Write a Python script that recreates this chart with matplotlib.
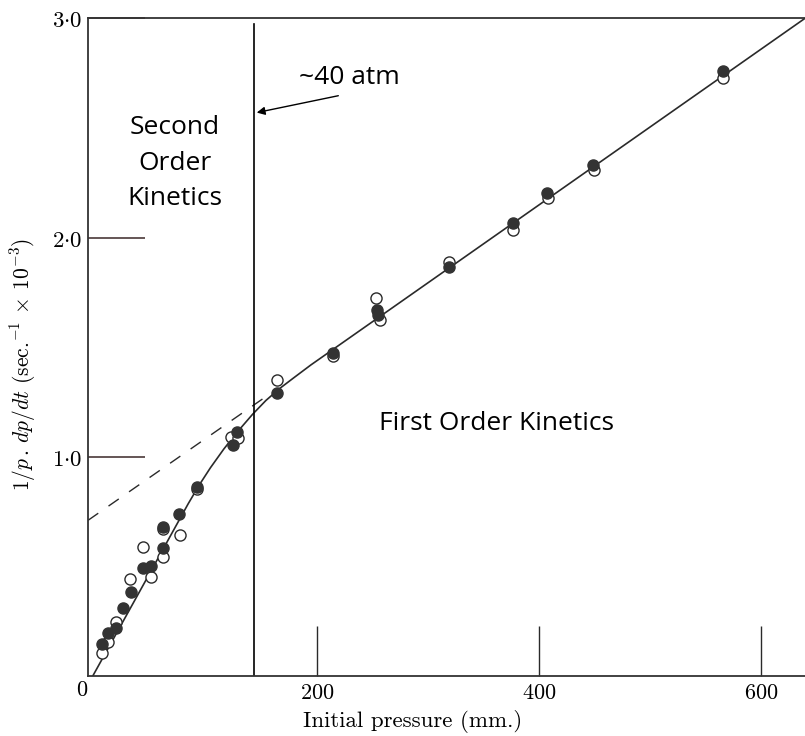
import matplotlib
matplotlib.use("Agg")
import matplotlib.pyplot as plt

plt.rcParams["mathtext.fontset"] = "cm"

# Measured rate vs initial pressure: filled and open symbols
filled_p = [6.0, 12.0, 18.9, 25.0, 32.2, 43.0, 50.2, 61.5, 61.5, 75.7, 91.6,
            124.1, 127.7, 164.2, 214.7, 253.8, 255.2, 318.9, 376.8, 406.9, 448.9, 565.5]
filled_r = [0.145, 0.198, 0.220, 0.309, 0.382, 0.491, 0.503, 0.584, 0.681, 0.739, 0.861,
            1.054, 1.112, 1.290, 1.472, 1.670, 1.647, 1.865, 2.065, 2.202, 2.331, 2.761]

open_p = [6.0, 12.0, 18.9, 31.5, 43.0, 50.2, 61.5, 61.5, 76.6, 92.2, 122.5,
          129.1, 163.7, 214.4, 253.2, 256.8, 318.9, 376.8, 407.8, 449.8, 566.0]
open_r = [0.104, 0.154, 0.248, 0.443, 0.590, 0.453, 0.544, 0.671, 0.643, 0.852, 1.089,
          1.084, 1.350, 1.460, 1.723, 1.624, 1.890, 2.035, 2.179, 2.308, 2.729]

# Hand-drawn fit through the points
curve_p = [-2, 44, 84, 94, 104, 116, 128, 142, 154, 166.5, 179.5, 194.5, 639.6]
curve_r = [0.0, 0.42, 0.786, 0.872, 0.950, 1.035, 1.112, 1.194, 1.257, 1.312, 1.362, 1.419, 3.0]

# Extrapolation of the first-order line back to zero pressure
extrap_p = [-6.3, 154.4]
extrap_r = [0.71, 1.276]

boundary_p = 143.4      # ~40 atm
boundary_top = 2.975

x_ticks = [200, 400, 600]
y_ticks = [1.0, 2.0, 3.0]
y_tick_labels = [r"$1{\cdot}0$", r"$2{\cdot}0$", r"$3{\cdot}0$"]

ink = "#2a2a2a"
serif = "cmr10"

fig = plt.figure(figsize=(8.05, 7.36), dpi=100)
ax = fig.add_axes([0.1093, 0.0815, 0.8907, 0.8936])

ax.plot(curve_p, curve_r, color=ink, lw=1.2, zorder=2)
ax.plot(extrap_p, extrap_r, color=ink, lw=1.0, dashes=(9, 9), zorder=2)
ax.plot([boundary_p, boundary_p], [0, boundary_top], color="black", lw=1.2, zorder=2)

ax.plot(open_p, open_r, "o", ms=8, mfc="white", mec=ink, mew=1.0, ls="none", zorder=3)
ax.plot(filled_p, filled_r, "o", ms=8, mfc="#333333", mec="#333333", ls="none", zorder=4)

ax.annotate("", xy=(145.7, 2.570), xytext=(219.2, 2.647),
            arrowprops=dict(arrowstyle="-|>", lw=1.0, color="black", mutation_scale=12,
                            shrinkA=0, shrinkB=0))

sans = "Open Sans"
ax.text(228.9, 2.701, "~40 atm", ha="center", va="baseline", fontsize=19, family=sans)
second_lines = ["Second", "Order", "Kinetics"]
second_base = [2.473, 2.309, 2.149]
for line, yb in zip(second_lines, second_base):
    ax.text(72.1, yb, line, ha="center", va="baseline", fontsize=19, family=sans)
ax.text(361.3, 1.122, "First Order Kinetics", ha="center", va="baseline",
        fontsize=19, family=sans)

ax.set_xlim(-6.3, 639.6)
ax.set_ylim(0, 3.0)

ax.set_xticks(x_ticks)
ax.set_xticklabels([f"${v}$" for v in x_ticks])
ax.set_yticks(y_ticks)
ax.set_yticklabels(y_tick_labels)
ax.tick_params(axis="y", direction="in", length=41, width=1.2, color="#4a3838",
               labelsize=16.5, pad=4)
ax.tick_params(axis="x", direction="in", length=36, width=1.0, color=ink,
               labelsize=16, pad=5)
ax.text(-0.0084, -0.0213, "$0$", transform=ax.transAxes, ha="center", va="center",
        fontsize=16)

for side in ["left", "bottom", "top"]:
    ax.spines[side].set_color("#333333")
    ax.spines[side].set_linewidth(1.3)
ax.spines["right"].set_visible(False)

ax.set_xlabel("Initial pressure (mm.)", fontsize=16.5, family=serif, va="center")
ax.xaxis.set_label_coords(0.453, -0.069)
ax.set_ylabel(r"$1/p\,.\,dp/dt$ (sec.$^{-1}$ $\times$ 10$^{-3}$)", fontsize=15.5,
              family=serif, va="center")
ax.yaxis.set_label_coords(-0.0907, 0.474)

fig.savefig("out.png", dpi=100)
